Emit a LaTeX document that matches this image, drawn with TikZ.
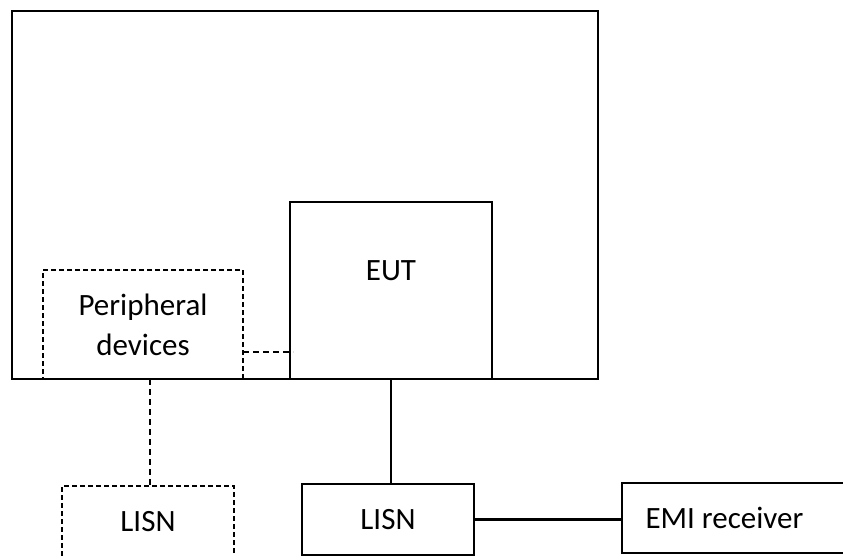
\documentclass[tikz,border=0pt]{standalone}
\usepackage{fontspec}
\setmainfont{Carlito}
\begin{document}
\begin{tikzpicture}[x=1pt,y=-1pt,
  every node/.style={font=\fontsize{31}{40}\selectfont},
  solidbox/.style={draw=black,line width=1.8pt,inner sep=0pt,outer sep=0pt},
  dashbox/.style={draw=black,line width=1.4pt,dash pattern=on 5pt off 3pt,inner sep=0pt,outer sep=0pt},
  wire/.style={draw=black,line width=1.6pt},
  dwire/.style={draw=black,line width=1.4pt,dash pattern=on 6pt off 4pt},
  thickwire/.style={draw=black,line width=2.8pt}]
\useasboundingbox (0,0) rectangle (843,556);
\clip (0,0) rectangle (843,556);
% outer enclosure
\node[solidbox,minimum width=586pt,minimum height=368pt] (room) at (305,195) {};
% EUT
\node[solidbox,minimum width=202pt,minimum height=177pt,
  label={[yshift=20pt]center:EUT}] (eut) at (391,290.5) {};
% peripheral devices
\node[dashbox,minimum width=200pt,minimum height=109pt,align=center] (periph) at (143,324.5) {Peripheral\\devices};
% LISNs
\node[dashbox,minimum width=172pt,minimum height=71pt] (lisnA) at (148,521.5) {LISN};
\node[solidbox,minimum width=172pt,minimum height=71pt] (lisnB) at (388,519.5) {LISN};
% EMI receiver
\node[solidbox,line width=1.6pt,minimum width=240pt,minimum height=70pt,
  label={[anchor=west,xshift=20pt]west:EMI receiver}] (emi) at (742,518) {};
% connectors
\draw[wire] (391,379) coordinate (eutb) -- (eutb |- lisnB.north);
\draw[dwire] ([yshift=-27.5pt]periph.east) -- ++(50,0);
\draw[dwire] ([xshift=2pt]lisnA.north |- periph.south) -- ([xshift=2pt]lisnA.north);
\draw[thickwire] (lisnB.east) -- (emi.west |- lisnB.east);
\end{tikzpicture}
\end{document}
